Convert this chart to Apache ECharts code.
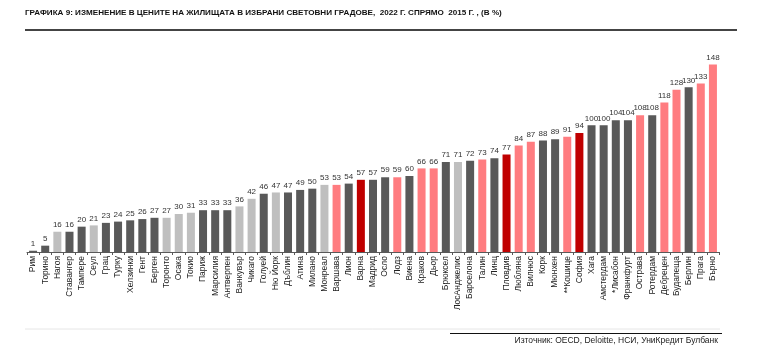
<!DOCTYPE html>
<html><head><meta charset="utf-8">
<script src="https://cdn.jsdelivr.net/npm/echarts@6/dist/echarts.min.js"></script>
<style>html,body{margin:0;padding:0;background:#fff}#c{width:768px;height:362px}</style>
</head><body><div id="c"></div>
<script>
const cities = ["Рим","Торино","Нагоя","Ставангер","Тампере","Сеул","Грац","Турку","Хелзинки","Гент","Берген","Торонто","Осака","Токио","Париж","Марсилия","Антверпен","Ванкувър","Чикаго","Голуей","Ню Йорк","Дъблин","Атина","Милано","Монреал","Варшава","Лион","Варна","Мадрид","Осло","Лодз","Виена","Краков","Дьор","Брюксел","ЛосАнджелис","Барселона","Талин","Линц","Пловдив","Любляна","Вилнюс","Корк","Мюнхен","**Кошице","София","Хага","Амстердам","*Лисабон","Франкфурт","Острава","Ротердам","Дебрецен","Будапеща","Берлин","Прага","Бърно"];
const values = [1,5,16,16,20,21,23,24,25,26,27,27,30,31,33,33,33,36,42,46,47,47,49,50,53,53,54,57,57,59,59,60,66,66,71,71,72,73,74,77,84,87,88,89,91,94,100,100,104,104,108,108,118,128,130,133,148];
// group: d = Western Europe, l = outside Europe, p = CEE, r = Bulgaria
const groups = ["d","d","l","d","d","l","d","d","d","d","d","l","l","l","d","d","d","l","l","d","l","d","d","d","l","p","d","r","d","d","p","d","p","p","d","l","d","p","d","r","p","p","d","d","p","r","d","d","d","d","p","d","p","p","d","p","p"];
const title = "ГРАФИКА 9: ИЗМЕНЕНИЕ В ЦЕНИТЕ НА ЖИЛИЩАТА В ИЗБРАНИ СВЕТОВНИ ГРАДОВЕ,  2022 Г. СПРЯМО  2015 Г. , (В %)";
const source = "Източник: OECD, Deloitte, НСИ, УниКредит Булбанк";

const palette = {d:"#595959", l:"#bfbfbf", p:"#ff7c80", r:"#c00000"};
const chart = echarts.init(document.getElementById('c'), null, {renderer:'canvas'});
chart.setOption({
  animation:false,
  textStyle:{fontFamily:'Liberation Sans, Arial, sans-serif'},
  grid:{left:27,right:49,top:62,bottom:110,containLabel:false},
  xAxis:{type:'category',data:cities,
    axisLine:{lineStyle:{color:'#595959',width:1}},
    axisTick:{show:true,length:3,lineStyle:{color:'#595959'}},
    axisLabel:{rotate:90,interval:0,fontSize:8.5,color:'#222',margin:4}},
  yAxis:{type:'value',min:0,max:150,show:false,splitLine:{show:false}},
  series:[{type:'bar',barCategoryGap:'34%',
    data:values.map((v,i)=>({value:v,itemStyle:{color:palette[groups[i]]}})),
    label:{show:true,position:'top',fontSize:8,color:'#333',distance:3}}],
  graphic:[
    {type:'text',left:25,top:9,style:{text:title,font:'bold 8.1px Liberation Sans, Arial, sans-serif',fill:'#111'}},
    {type:'line',shape:{x1:25,y1:30,x2:737,y2:30},style:{stroke:'#444',lineWidth:2}},
    {type:'line',shape:{x1:25,y1:329,x2:720,y2:329},style:{stroke:'#e6e6e6',lineWidth:1}},
    {type:'line',shape:{x1:450,y1:333.5,x2:722,y2:333.5},style:{stroke:'#111',lineWidth:1}},
    {type:'text',right:50,top:336,style:{text:source,font:'8.5px Liberation Sans, Arial, sans-serif',fill:'#222'}}
  ]
});
</script></body></html>
